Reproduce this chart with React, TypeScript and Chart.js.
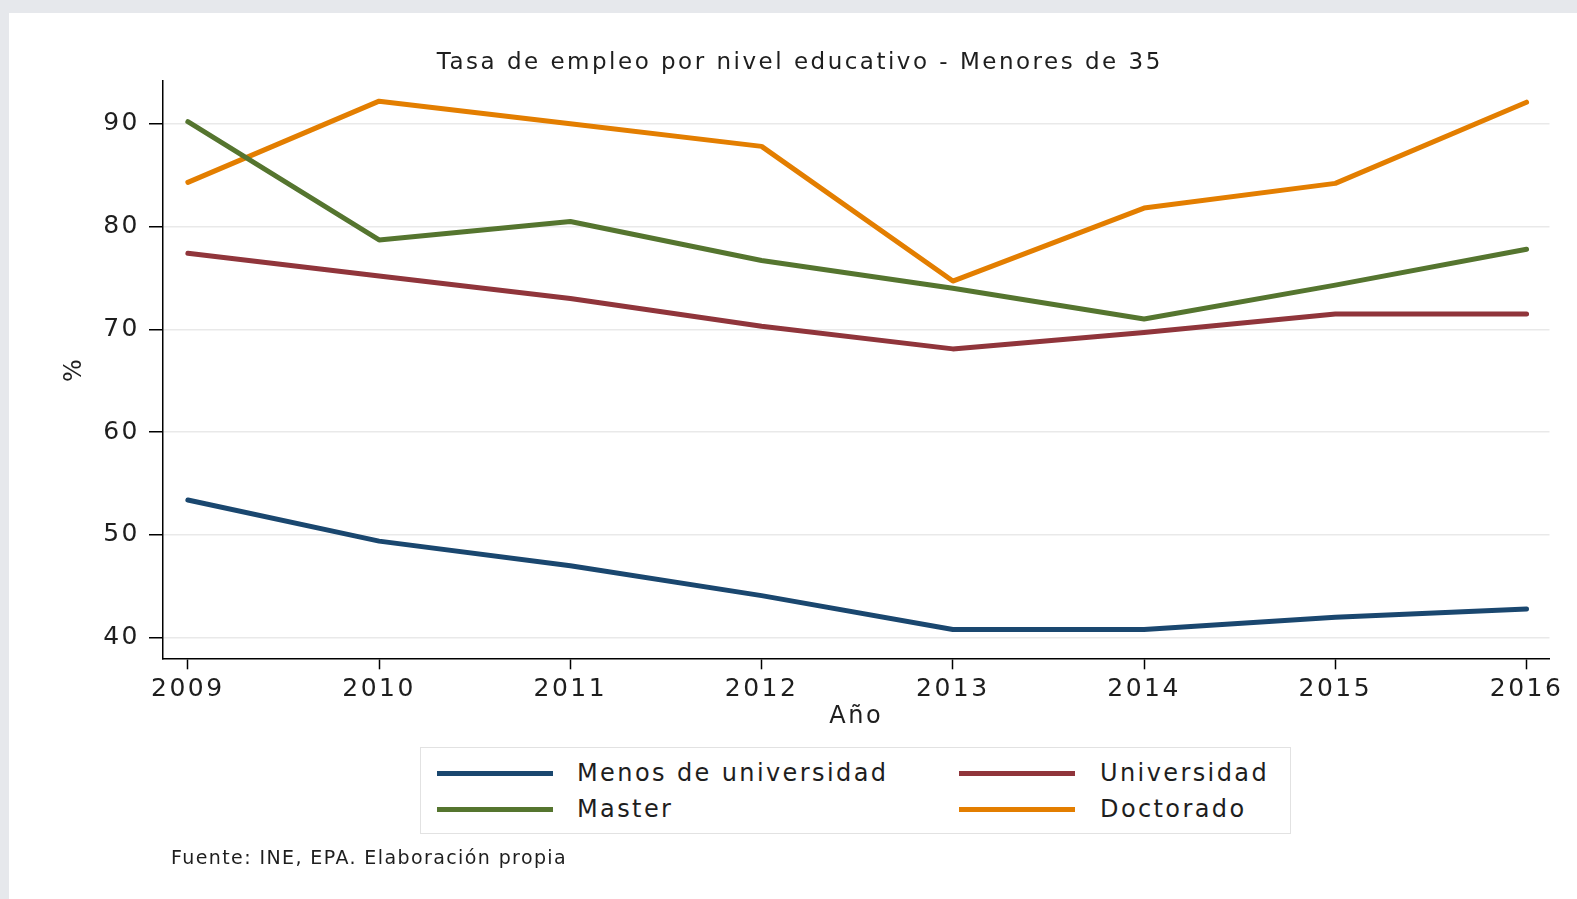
import React, { useEffect, useRef } from 'react';
import { Chart, registerables } from 'chart.js';

Chart.register(...registerables);

const years = [2009, 2010, 2011, 2012, 2013, 2014, 2015, 2016];
const menosUniversidad = [53.4, 49.4, 47.0, 44.1, 40.8, 40.8, 42.0, 42.8];
const universidad = [77.4, 75.2, 73.0, 70.3, 68.1, 69.7, 71.5, 71.5];
const master = [90.2, 78.7, 80.5, 76.7, 74.0, 71.0, 74.3, 77.8];
const doctorado = [84.3, 92.2, 90.0, 87.8, 74.7, 81.8, 84.2, 92.1];
const yTicks = [40, 50, 60, 70, 80, 90];
const seriesNames = ['Menos de universidad', 'Universidad', 'Master', 'Doctorado'];
const seriesValues = [menosUniversidad, universidad, master, doctorado];
const seriesColors = ['#1a476f', '#90353b', '#55752f', '#e37e00'];
const chartTitle = 'Tasa de empleo por nivel educativo - Menores de 35';
const yTitle = '%';
const xTitle = 'Año';
const footnote = 'Fuente: INE, EPA. Elaboración propia';

const FONT = "'DejaVu Sans', 'Liberation Sans', Arial, sans-serif";
const TEXT = '#1e1e1e';

const spacingPlugin = {
  id: 'spacing',
  beforeUpdate(chart: any) {
    chart.ctx.letterSpacing = '2.5px';
  },
  beforeDraw(chart: any) {
    chart.ctx.letterSpacing = '2.5px';
  },
};

export default function App() {
  const ref = useRef<HTMLCanvasElement | null>(null);

  useEffect(() => {
    const canvas = ref.current;
    if (!canvas) return;
    const chart = new Chart(canvas, {
      type: 'line',
      data: {
        datasets: seriesNames.map((name, i) => ({
          label: name,
          data: years.map((yr, j) => ({ x: yr, y: seriesValues[i][j] })),
          borderColor: seriesColors[i],
          backgroundColor: seriesColors[i],
          borderWidth: 5,
          pointRadius: 0,
          tension: 0,
          borderJoinStyle: 'round',
          borderCapStyle: 'round',
          fill: false,
        })),
      },
      plugins: [spacingPlugin],
      options: {
        responsive: false,
        animation: false,
        layout: { padding: { top: 13, left: 50, right: 27.5, bottom: 160.7 } },
        plugins: {
          legend: { display: false },
          tooltip: { enabled: false },
          title: {
            display: true,
            text: chartTitle,
            color: TEXT,
            font: { family: FONT, size: 23, weight: 'normal' },
            padding: { top: 36, bottom: 4 },
          },
        },
        scales: {
          x: {
            type: 'linear',
            min: 2008.87,
            max: 2016.12,
            afterFit: (s: any) => { s.height = 80; },
            afterBuildTicks: (s: any) => { s.ticks = years.map((v) => ({ value: v })); },
            ticks: {
              color: TEXT,
              font: { family: FONT, size: 25 },
              padding: 5,
              maxRotation: 0,
              autoSkip: false,
              callback: (v: any) => String(v),
            },
            grid: {
              drawOnChartArea: false,
              drawTicks: true,
              tickLength: 11,
              tickColor: '#000',
              tickWidth: 1.5,
            },
            border: { display: true, color: '#000', width: 1.5 },
            title: {
              display: true,
              text: xTitle,
              color: TEXT,
              font: { family: FONT, size: 24 },
              padding: { top: 0, bottom: 7 },
            },
          },
          y: {
            type: 'linear',
            min: 38,
            max: 94.2,
            afterFit: (s: any) => { s.width = 113; },
            afterBuildTicks: (s: any) => { s.ticks = yTicks.map((v) => ({ value: v })); },
            ticks: {
              color: TEXT,
              font: { family: FONT, size: 25 },
              padding: 9,
              callback: (v: any) => String(v),
            },
            grid: {
              color: '#e9e9e9',
              lineWidth: 1.5,
              drawTicks: true,
              tickLength: 14,
              tickColor: '#000',
              tickWidth: 1.5,
            },
            border: { display: true, color: '#000', width: 1.5 },
            title: {
              display: true,
              text: yTitle,
              color: TEXT,
              font: { family: FONT, size: 24 },
              padding: { top: 10, bottom: 0 },
            },
          },
        },
      },
    } as any);
    return () => chart.destroy();
  }, []);

  const legendRows = [[0, 1], [2, 3]];
  const colLine = [16, 538];
  const colText = [156, 679];
  const rowY = [25, 61];

  return (
    <div style={{ position: 'absolute', left: 0, top: 0, width: 1577, height: 899, background: '#e6e8ec', overflow: 'hidden' }}>
      <div style={{ position: 'absolute', left: 9, top: 13, right: 0, bottom: 0, background: '#ffffff' }} />
      <canvas ref={ref} width={1577} height={899} style={{ position: 'absolute', left: 0, top: 0, width: 1577, height: 899 }} />
      <div style={{ position: 'absolute', left: 420, top: 747, width: 871, height: 87, boxSizing: 'border-box', border: '1px solid #e2e2e2', background: '#fff' }}>
        {legendRows.map((row, r) => row.map((idx, c) => (
          <React.Fragment key={idx}>
            <div style={{ position: 'absolute', left: colLine[c], top: rowY[r] - 2.5, width: 116, height: 5, background: seriesColors[idx] }} />
            <div style={{ position: 'absolute', left: colText[c], top: rowY[r] - 15, height: 30, lineHeight: '30px', fontFamily: FONT, fontSize: 24, letterSpacing: '2.4px', color: TEXT, whiteSpace: 'nowrap' }}>
              {seriesNames[idx]}
            </div>
          </React.Fragment>
        )))}
      </div>
      <div style={{ position: 'absolute', left: 171, top: 857 - 12, height: 24, lineHeight: '24px', fontFamily: FONT, fontSize: 19, letterSpacing: '1.4px', color: TEXT, whiteSpace: 'nowrap' }}>
        {footnote}
      </div>
    </div>
  );
}
